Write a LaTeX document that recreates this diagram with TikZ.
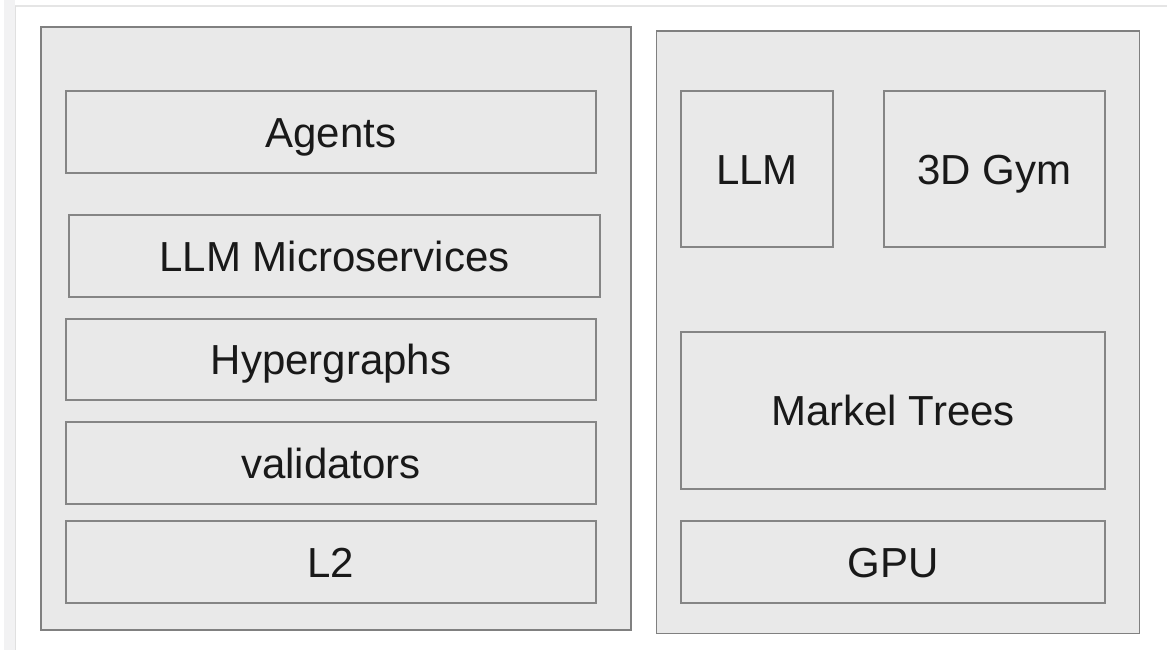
\documentclass[tikz,border=0pt]{standalone}
\usepackage{fontspec}
\setmainfont{Liberation Sans}
\begin{document}
\begin{tikzpicture}[x=1pt,y=-1pt,
  panel/.style={draw=black!50,fill=black!8.5,line width=1.8pt},
  block/.style={draw=black!48,fill=black!8.5,line width=1.5pt,
    font=\fontsize{42}{50}\selectfont,text=black!90,
    text height=30pt,text depth=0pt},
]
\useasboundingbox (0,0) rectangle (1167,650);
\fill[white] (0,0) rectangle (1167,650);
% page edges
\fill[blue!3!black!5] (4,0) rectangle (15,650);
\draw[black!10,line width=1.5pt] (15,6) -- (1167,6);
\draw[black!12,line width=1pt] (15.5,6) -- (15.5,650);
% left stack
\node[panel,minimum width=590pt,minimum height=603pt,anchor=north west] (left) at (40,26) {};
\node[block,minimum width=530pt,minimum height=82pt] (agents) at (331,132) {Agents};
\node[block,minimum width=531pt,minimum height=82pt] (micro) at (334.5,256) {LLM Microservices};
\node[block,minimum width=530pt,minimum height=81pt] (hyper) at (331,359.5) {Hypergraphs};
\node[block,minimum width=530pt,minimum height=82pt] (valid) at (331,463) {validators};
\node[block,minimum width=530pt,minimum height=82pt] (ltwo) at (331,562) {L2};
% right stack
\node[panel,minimum width=483pt,minimum height=602pt,anchor=north west] (right) at (655.5,30.5) {};
\node[block,minimum width=152pt,minimum height=156pt] (llm) at (757,169) {LLM};
\node[block,minimum width=221pt,minimum height=156pt] (gym) at (994.5,169) {3D Gym};
\node[block,minimum width=424pt,minimum height=157pt] (markel) at (893,410.5) {Markel Trees};
\node[block,minimum width=424pt,minimum height=82pt] (gpu) at (893,562) {GPU};
\end{tikzpicture}
\end{document}
